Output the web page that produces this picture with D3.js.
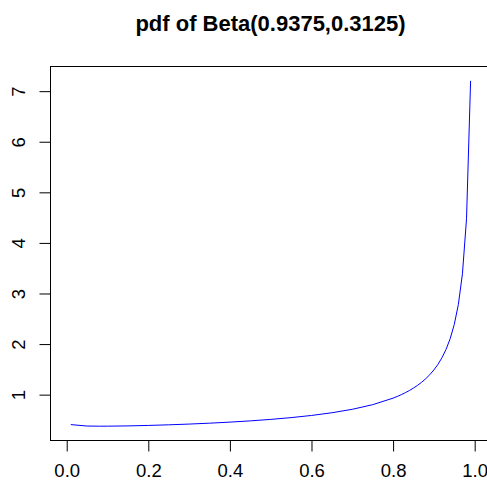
<!DOCTYPE html>
<html>
<head>
<meta charset="utf-8">
<script src="https://cdn.jsdelivr.net/npm/d3@7"></script>
<style>
  body { margin: 0; background: #fff; }
  svg { display: block; font-family: "Liberation Sans", Arial, sans-serif; }
</style>
</head>
<body>
<svg id="canvas" width="487" height="481"></svg>
<script>
// pdf of Beta(0.9375, 0.3125)
let xs = [0.01, 0.05, 0.08, 0.1, 0.15, 0.2, 0.25, 0.3, 0.35, 0.4, 0.45, 0.5, 0.55, 0.6, 0.65, 0.7, 0.75,
          0.8, 0.81, 0.82, 0.83, 0.84, 0.85, 0.86, 0.87, 0.88, 0.89, 0.9, 0.91, 0.92, 0.93, 0.94,
          0.95, 0.96, 0.97, 0.98, 0.99]
let ys = [0.4077, 0.3793, 0.3765, 0.3769, 0.3823, 0.3914, 0.4035, 0.4183, 0.4360, 0.4568, 0.4814, 0.5106, 0.5458, 0.5886, 0.6419, 0.7104, 0.8018,
          0.9310, 0.9636, 0.9994, 1.0386, 1.0820, 1.1302, 1.1843, 1.2453, 1.3148, 1.3948, 1.4883, 1.5990, 1.7328, 1.8980, 2.1088,
          2.3888, 2.7832, 3.3900, 4.4763, 7.2047]
let xTicks = [0, 0.2, 0.4, 0.6, 0.8, 1.0]
let yTicks = [1, 2, 3, 4, 5, 6, 7]
let title = 'pdf of Beta(0.9375,0.3125)'

let canvas = d3.select('#canvas')

// R style: 4% padding on each side of the data range (x range is 0..1)
let yMin = d3.min(ys), yMax = d3.max(ys)
let yPad = (yMax - yMin) * 0.04

let xScale = d3.scaleLinear().domain([-0.04, 1.04]).range([50.4, 491])
let yScale = d3.scaleLinear().domain([yMin - yPad, yMax + yPad]).range([440, 67])

// title
canvas.append('text')
      .attr('x', 270.5)
      .attr('y', 30.5)
      .attr('text-anchor', 'middle')
      .attr('font-size', '22px')
      .attr('font-weight', 'bold')
      .text(title)

// curve
let line = d3.line()
             .x((d, i) => xScale(xs[i]))
             .y((d) => yScale(d))

canvas.append('path')
      .datum(ys)
      .attr('d', line)
      .attr('fill', 'none')
      .attr('stroke', '#0000ff')
      .attr('stroke-width', 1)

// box
canvas.append('rect')
      .attr('x', 50.5)
      .attr('y', 66.5)
      .attr('width', 445)
      .attr('height', 374)
      .attr('fill', 'none')
      .attr('stroke', '#000')
      .attr('stroke-width', 1)

// x axis
let xAxis = d3.axisBottom(xScale)
              .tickValues(xTicks)
              .tickSize(11)
              .tickFormat(d3.format('.1f'))

let gx = canvas.append('g')
      .attr('transform', 'translate(0,440.5)')
      .call(xAxis)
gx.select('.domain')
  .attr('d', 'M' + xScale(0) + ',0H' + xScale(1))
gx.selectAll('line').attr('stroke', '#000')
gx.selectAll('text')
  .attr('fill', '#000')
  .attr('font-size', '18.5px')
  .attr('font-family', '"Liberation Sans", Arial, sans-serif')
  .attr('dy', null)
  .attr('y', 36.5)

// y axis, labels turned like R's las=0
let yAxis = d3.axisLeft(yScale)
              .tickValues(yTicks)
              .tickSize(11)
              .tickFormat(d3.format('d'))

let gy = canvas.append('g')
      .attr('transform', 'translate(50.5,0)')
      .call(yAxis)
gy.select('.domain')
  .attr('d', 'M0,' + yScale(1) + 'V' + yScale(7))
gy.selectAll('line').attr('stroke', '#000')
gy.selectAll('text')
  .attr('fill', '#000')
  .attr('font-size', '18.5px')
  .attr('font-family', '"Liberation Sans", Arial, sans-serif')
  .attr('x', null)
  .attr('dy', null)
  .attr('text-anchor', 'middle')
  .attr('transform', 'translate(-25.5,0) rotate(-90)')
</script>
</body>
</html>
